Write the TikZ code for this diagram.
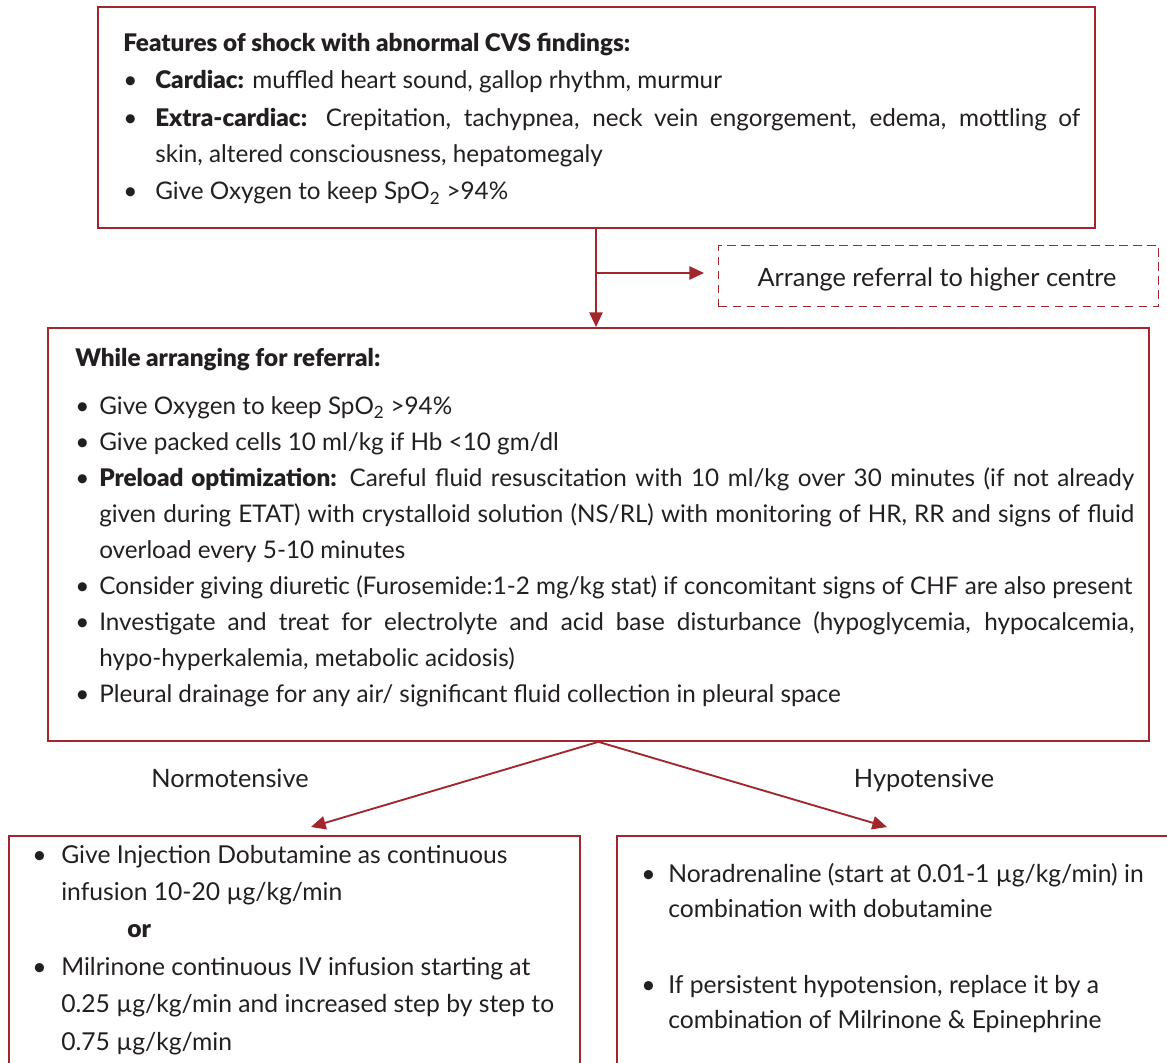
\documentclass[tikz,border=0pt]{standalone}
\usepackage{fontspec}
\setmainfont{Lato}[BoldFont={Lato Black}]
\usetikzlibrary{arrows.meta,calc}

\definecolor{frame}{RGB}{163,38,45}
\definecolor{ink}{RGB}{35,31,32}

% bullet item with a hanging indent of #1
\newcommand{\bitem}[2]{\par\noindent\hangindent=#1\hangafter=1\makebox[#1][l]{\textbullet}#2}
\newcommand{\spo}{SpO\textsubscript{2}}

\begin{document}
\begin{tikzpicture}[x=0.75pt,y=-0.75pt,
  panel/.style={draw=frame, line width=1.4pt, inner sep=0pt, anchor=north west},
  refbox/.style={draw=frame, line width=1pt, dash pattern=on 6.5pt off 4pt, inner sep=0pt, anchor=north west},
  conn/.style={draw=frame, line width=1.4pt, -{Triangle[length=11pt,width=10pt]}},
  body/.style={text=ink, inner sep=0pt, anchor=base west, font=\fontsize{18.2}{27}\selectfont},
  label/.style={text=ink, inner sep=0pt, anchor=base, font=\fontsize{19}{22}\selectfont},
]
\useasboundingbox (0,0) rectangle (1167,1063);
\clip (0,0) rectangle (1167,1063);

% frames
\node[panel, minimum width=747.75pt, minimum height=165.75pt] (top) at (97,6) {};
\node[panel, minimum width=825.75pt, minimum height=309.75pt] (mid) at (47,327) {};
\node[refbox, minimum width=330pt, minimum height=45.75pt] (refer) at (718,245) {};
\node[panel, minimum width=428.25pt, minimum height=210pt] (lbox) at (8,835) {};
\node[panel, minimum width=438pt, minimum height=210pt] (rbox) at (616,835) {};

% top panel text
\node[body, font=\fontsize{18.2}{27.75}\selectfont] (ttext) at (123,52) {\parbox[t]{717.75pt}{%
\noindent\textbf{Features of shock with abnormal CVS findings:}
\bitem{24pt}{\textbf{Cardiac:} muffled heart sound, gallop rhythm, murmur}
\bitem{24pt}{\textbf{Extra-cardiac:} Crepitation, tachypnea, neck vein engorgement, edema, mottling of\linebreak skin, altered consciousness, hepatomegaly}
\bitem{24pt}{Give Oxygen to keep \spo{} >94\%}}};

% referral text
\node[label] (rtext) at (937,286) {Arrange referral to higher centre};

% middle panel text
\node[body] (mtext) at (75,366) {\parbox[t]{794.25pt}{%
\noindent\textbf{While arranging for referral:}\par\vspace{9pt}
\bitem{18pt}{Give Oxygen to keep \spo{} >94\%}
\bitem{18pt}{Give packed cells 10 ml/kg if Hb <10 gm/dl}
\bitem{18pt}{\textbf{Preload optimization:} Careful fluid resuscitation with 10 ml/kg over 30 minutes (if not already\linebreak given during ETAT) with crystalloid solution (NS/RL) with monitoring of HR, RR and signs of fluid\linebreak overload every 5-10 minutes}
\bitem{18pt}{Consider giving diuretic (Furosemide:1-2 mg/kg stat) if concomitant signs of CHF are also present}
\bitem{18pt}{Investigate and treat for electrolyte and acid base disturbance (hypoglycemia, hypocalcemia,\linebreak hypo-hyperkalemia, metabolic acidosis)}
\bitem{18pt}{Pleural drainage for any air/ significant fluid collection in pleural space}}};

% branch labels
\node[label] (nlab) at (230,787) {Normotensive};
\node[label] (hlab) at (924,787) {Hypotensive};

% lower left panel text
\node[body, font=\fontsize{18.5}{28.1}\selectfont] (ltext) at (32,863) {\parbox[t]{420pt}{%
\bitem{21.75pt}{Give Injection Dobutamine as continuous\\infusion 10-20 µg/kg/min}
\par\noindent\hspace{71.25pt}\textbf{or}
\bitem{21.75pt}{Milrinone continuous IV infusion starting at\\0.25 µg/kg/min and increased step by step to\\0.75 µg/kg/min}}};

% lower right panel text
\node[body, font=\fontsize{18.5}{26.25}\selectfont] (rtext2) at (641,882) {\parbox[t]{420pt}{%
\bitem{20.25pt}{Noradrenaline (start at 0.01-1 µg/kg/min) in\\combination with dobutamine}
\par\vspace{30.75pt}
\bitem{20.25pt}{If persistent hypotension, replace it by a\\combination of Milrinone \& Epinephrine}}};

% connectors
\coordinate (j1) at (596,273);
\coordinate (ltip) at (311,827);
\coordinate (rtip) at (887,827);
\draw[conn] (top.south -| j1) -- (mid.north -| j1);
\draw[conn, shorten >=10.5pt] (j1) -- (refer.west |- j1);
\draw[conn] (mid.south) -- (ltip);
\draw[conn] (mid.south) -- (rtip);
\end{tikzpicture}
\end{document}
